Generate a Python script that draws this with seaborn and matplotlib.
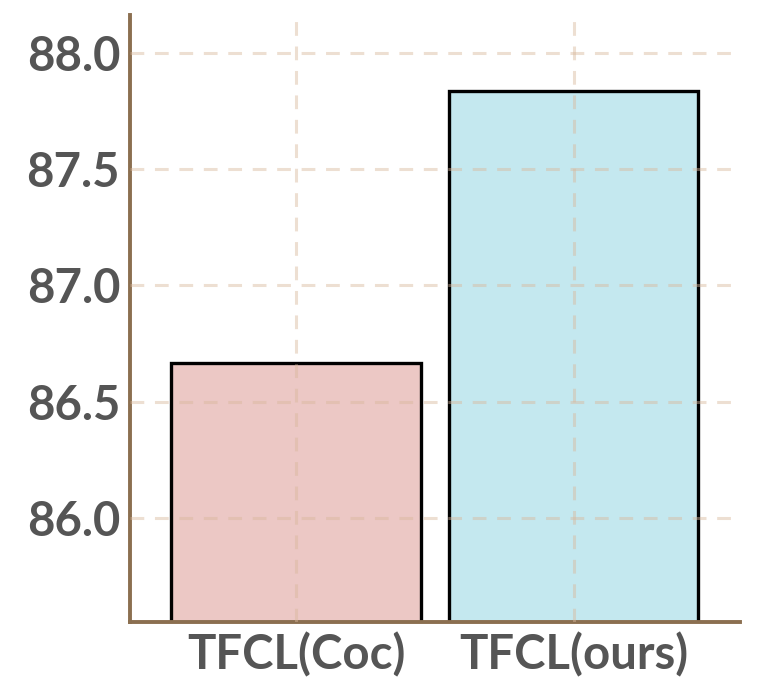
import matplotlib
matplotlib.use("Agg")
import matplotlib.pyplot as plt
import seaborn as sns
import pandas as pd

# accuracy of the two variants
methods = ["TFCL(Coc)", "TFCL(ours)"]
scores = [86.667, 87.837]
bar_colors = ["#ECC8C5", "#C4E8EF"]
y_ticks = [86.0, 86.5, 87.0, 87.5, 88.0]

sns.set_style("white")
plt.rcParams["font.family"] = ["Lato", "DejaVu Sans"]

df = pd.DataFrame({"method": methods, "score": scores})

fig = plt.figure(figsize=(7.59, 7.0), dpi=100)
ax = fig.add_axes([0.171, 0.111, 0.804, 0.868])

sns.barplot(data=df, x="method", y="score", hue="method", palette=bar_colors,
            saturation=1, width=0.9, edgecolor="black", linewidth=2.4,
            legend=False, ax=ax)

ax.set_ylim(85.553, 88.163)
ax.set_xlim(-0.6, 1.6)
ax.set_yticks(y_ticks)
ax.set_yticklabels([f"{t:.1f}" for t in y_ticks])
ax.set_xlabel("")
ax.set_ylabel("")

spine_c = "#8B6F50"
for s in ["top", "right"]:
    ax.spines[s].set_visible(False)
for s in ["left", "bottom"]:
    ax.spines[s].set_color(spine_c)
    ax.spines[s].set_linewidth(2.8)

ax.tick_params(axis="both", colors=spine_c, width=2.8, length=5,
               labelcolor="#555555", labelsize=34, pad=2)
for lab in ax.get_xticklabels() + ax.get_yticklabels():
    lab.set_fontweight("bold")

ax.set_axisbelow(False)
ax.grid(True, color="#D9B89C", alpha=0.45, linewidth=2.2, linestyle=(0, (4.5, 3.5)))

fig.savefig("out.png", dpi=100)
